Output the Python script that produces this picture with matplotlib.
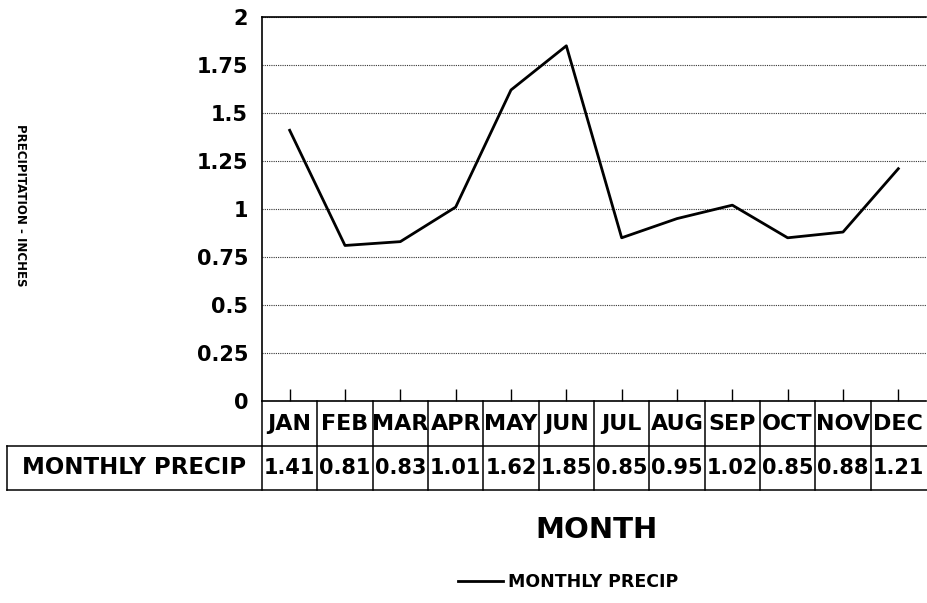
import matplotlib
matplotlib.use('Agg')
import matplotlib.pyplot as plt
import matplotlib.transforms as mtransforms
from matplotlib.lines import Line2D

plt.rcParams['font.family'] = ['DejaVu Sans']
plt.rcParams['font.weight'] = 'bold'

# data
months = ['JAN', 'FEB', 'MAR', 'APR', 'MAY', 'JUN', 'JUL', 'AUG', 'SEP', 'OCT', 'NOV', 'DEC']
precip = [1.41, 0.81, 0.83, 1.01, 1.62, 1.85, 0.85, 0.95, 1.02, 0.85, 0.88, 1.21]
value_labels = ['1.41', '0.81', '0.83', '1.01', '1.62', '1.85', '0.85', '0.95', '1.02', '0.85', '0.88', '1.21']
y_ticks = [0, 0.25, 0.5, 0.75, 1, 1.25, 1.5, 1.75, 2]
y_tick_labels = ['0', '0.25', '0.5', '0.75', '1', '1.25', '1.5', '1.75', '2']
series_name = 'MONTHLY PRECIP'

fig = plt.figure(figsize=(9.28, 6.03), dpi=100)
ax_w = 664
ax = fig.add_axes([262 / 928, 1 - 401 / 603, ax_w / 928, 384 / 603])

x = list(range(len(months)))
line, = ax.plot(x, precip, color='black', linewidth=2, label=series_name)

ax.set_xlim(-0.5, len(months) - 0.5)
ax.set_ylim(0, 2)
ax.set_yticks(y_ticks)
ax.set_yticklabels(y_tick_labels, fontsize=15, fontweight='bold')
ax.yaxis.grid(True, color='#333333', linestyle=(0, (1, 1)), linewidth=0.8)
ax.set_axisbelow(True)
ax.tick_params(axis='y', length=0, pad=10)
ax.set_xticks(x)
ax.set_xticklabels([])
ax.tick_params(axis='x', direction='in', length=9, width=1, color='black')
ax.spines['right'].set_visible(False)
for s in ['left', 'bottom', 'top']:
    ax.spines[s].set_linewidth(1.2)

# table under the axes
trans = mtransforms.blended_transform_factory(ax.transData, ax.transAxes)
row1_bot = -45 / 384
row2_bot = -89 / 384
left_edge = (7 - 262) / ax_w

kw = dict(color='black', linewidth=1.1, clip_on=False)
# horizontal borders
ax.add_line(Line2D([0, 1.01], [row1_bot, row1_bot], transform=ax.transAxes, **kw))
ax.add_line(Line2D([left_edge, 0], [row1_bot, row1_bot], transform=ax.transAxes, **kw))
ax.add_line(Line2D([left_edge, 1.01], [row2_bot, row2_bot], transform=ax.transAxes, **kw))
# left borders
ax.add_line(Line2D([0, 0], [0, row2_bot], transform=ax.transAxes, **kw))
ax.add_line(Line2D([left_edge, left_edge], [row1_bot, row2_bot], transform=ax.transAxes, **kw))
# cell borders
for i in x[1:]:
    ax.add_line(Line2D([i - 0.5, i - 0.5], [0, row2_bot], transform=trans, **kw))

for i, (m, v) in enumerate(zip(months, value_labels)):
    ax.text(i, row1_bot / 2, m, transform=trans, ha='center', va='center',
            fontsize=16, fontweight='bold', clip_on=False)
    ax.text(i, (row1_bot + row2_bot) / 2, v, transform=trans, ha='center', va='center',
            fontsize=15, fontweight='bold', clip_on=False)

ax.text(left_edge / 2, (row1_bot + row2_bot) / 2, series_name, transform=ax.transAxes,
        ha='center', va='center', fontsize=16.5, fontweight='bold')

fig.text(596 / 928, 1 - 530 / 603, 'MONTH', ha='center', va='center',
         fontsize=21, fontweight='bold')
fig.text(20 / 928, 1 - 205 / 603, 'PRECIPITATION - INCHES', rotation=270,
         ha='center', va='center', fontsize=8.5, fontweight='bold')

fig.legend(handles=[line], loc='center', bbox_to_anchor=(568 / 928, 1 - 582 / 603),
           frameon=False, handlelength=2.6, handletextpad=0.3,
           prop={'weight': 'bold', 'size': 12.5})

fig.savefig('out.png', dpi=100)
